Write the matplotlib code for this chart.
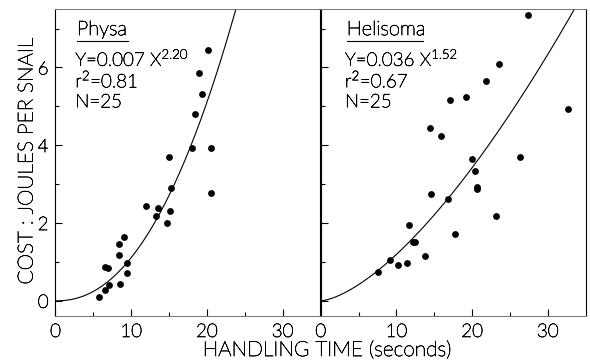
import numpy as np
import matplotlib.pyplot as plt
import matplotlib.patheffects as pe
from matplotlib.text import Text

plt.rcParams['font.family'] = ['Lato', 'DejaVu Sans']
plt.rcParams['font.weight'] = 'light'
plt.rcParams['mathtext.fontset'] = 'custom'
plt.rcParams['mathtext.rm'] = 'Lato:light'

# Physa: handling time (s) vs cost (J per snail)
physa_time = [5.7, 6.6, 6.6, 6.9, 7.1, 8.5, 8.4, 8.4, 9.0, 9.4, 9.5, 11.9, 13.3,
              13.5, 14.7, 15.1, 15.2, 15.0, 18.0, 18.4, 19.3, 19.0, 20.2, 20.6, 20.6]
physa_cost = [0.11, 0.28, 0.87, 0.85, 0.41, 0.43, 1.18, 1.46, 1.65, 0.98, 0.72, 2.43, 2.17,
              2.39, 2.00, 2.31, 2.89, 3.69, 3.94, 4.79, 5.31, 5.86, 6.44, 3.93, 2.77]

# Helisoma
heli_time = [7.6, 9.2, 10.2, 11.4, 11.7, 12.2, 12.5, 13.8, 14.6, 14.5, 15.9, 16.8, 17.1,
             17.8, 19.2, 20.0, 20.4, 20.6, 20.7, 21.9, 23.1, 23.6, 26.4, 27.4, 32.7]
heli_cost = [0.73, 1.04, 0.92, 0.97, 1.96, 1.52, 1.52, 1.16, 2.75, 4.44, 4.24, 2.62, 5.15,
             1.71, 5.23, 3.65, 3.33, 2.92, 2.88, 5.66, 2.19, 6.08, 3.70, 7.35, 4.92]

panels = [
    ("Physa", physa_time, physa_cost, 0.007, 2.20, "0.007", "2.20", "0.81", 25),
    ("Helisoma", heli_time, heli_cost, 0.036, 1.52, "0.036", "1.52", "0.67", 25),
]

fig = plt.figure(figsize=(5.9, 3.62), dpi=100)
ax_left = fig.add_axes([0.094, 0.127, 0.449, 0.848])
ax_right = fig.add_axes([0.5435, 0.127, 0.449, 0.848])

for ax, (name, t, c, a, b, a_txt, b_txt, r2, n) in zip([ax_left, ax_right], panels):
    xs = np.linspace(0, 35, 300)
    ax.plot(xs, a * xs ** b, color='black', lw=0.8)
    ax.plot(t, c, 'o', color='black', markersize=4.9, markeredgewidth=0)

    ax.set_xlim(0, 35)
    ax.set_ylim(-0.39, 7.5)
    ax.set_xticks([0, 10, 20, 30])
    ax.set_xticks([5, 15, 25], minor=True)
    ax.set_yticks([0, 2, 4, 6])
    ax.set_yticks([1, 3, 5, 7], minor=True)
    ax.tick_params(which='both', direction='in', labelsize=13.5, pad=5, width=0.8)
    ax.tick_params(which='major', length=5)
    ax.tick_params(which='minor', length=3)
    for side in ['top', 'bottom']:
        ax.spines[side].set_color('0.45')
        ax.spines[side].set_linewidth(0.7)
    for side in ['left', 'right']:
        ax.spines[side].set_linewidth(0.8)

    x0 = 0.081 if name == "Physa" else 0.098
    ax.text(x0, 0.915, name, transform=ax.transAxes, fontsize=14.5, va='baseline')
    x1 = 0.274 if name == "Physa" else 0.385
    ax.plot([x0, x1], [0.896, 0.896], transform=ax.transAxes, color='black', lw=0.8)

    ax.text(x0 - 0.006, 0.815, "Y=%s X$^{%s}$" % (a_txt, b_txt), transform=ax.transAxes,
            fontsize=13.5, va='baseline')
    ax.text(x0 - 0.006, 0.745, "r$^{2}$=%s" % r2, transform=ax.transAxes,
            fontsize=13.5, va='baseline')
    ax.text(x0 - 0.006, 0.680, "N=%d" % n, transform=ax.transAxes,
            fontsize=13.5, va='baseline')

ax_right.tick_params(labelleft=False)

fig.text(0.554, 0.033, "HANDLING TIME (seconds)", ha='center', va='center', fontsize=15)
fig.text(0.045, 0.555, "COST : JOULES PER SNAIL", ha='center', va='center',
         rotation=90, fontsize=15)

# thin light strokes, slightly darkened
for txt in fig.findobj(Text):
    txt.set_path_effects([pe.withStroke(linewidth=0.45, foreground='black')])

fig.savefig("out.png", dpi=100)
